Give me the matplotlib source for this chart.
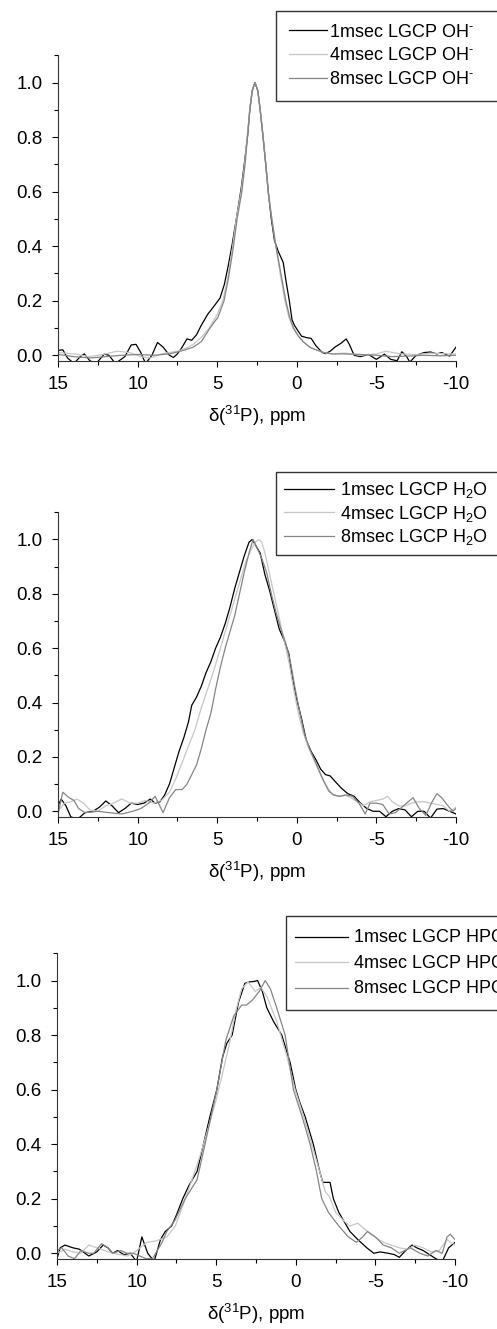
import matplotlib
matplotlib.use("Agg")
import matplotlib.pyplot as plt
from matplotlib.ticker import MultipleLocator

plt.rcParams['font.family'] = ['Liberation Sans', 'DejaVu Sans']
plt.rcParams['mathtext.fontset'] = 'custom'
plt.rcParams['mathtext.rm'] = 'Liberation Sans'
plt.rcParams['mathtext.it'] = 'Liberation Sans:italic'

# ---- panel 1: OH- ----
oh_1_x = [15.0, 14.7, 14.4, 14.0, 13.6, 13.35, 13.0, 12.6, 12.1, 11.8, 11.4, 10.8, 10.4, 10.1, 9.8, 9.5,
          9.1, 8.75, 8.4, 8.0, 7.75, 7.5, 7.2, 6.9, 6.6, 6.3, 6.0, 5.6, 5.2, 4.82, 4.55, 4.3, 4.05,
          3.8, 3.5, 3.3, 3.1, 2.95, 2.8, 2.63, 2.45, 2.3, 2.1, 1.95, 1.79, 1.6, 1.4, 1.16, 0.85, 0.7,
          0.47, 0.3, 0.15, -0.07, -0.3, -0.6, -0.9, -1.2, -1.6, -1.8, -2.1, -2.4, -2.8, -3.1, -3.3,
          -3.6, -4.0, -4.5, -5.0, -5.5, -5.9, -6.3, -6.6, -6.9, -7.1, -7.5, -8.0, -8.4, -8.8, -9.1,
          -9.6, -10.0]
oh_1_y = [0.018, 0.02, -0.01, -0.03, -0.005, 0.005, -0.02, -0.03, 0.004, 0.0, -0.03, -0.005, 0.038, 0.04,
          0.01, -0.03, 0.0, 0.047, 0.03, 0.0, -0.008, 0.005, 0.03, 0.06, 0.055, 0.075, 0.11, 0.15, 0.18,
          0.21, 0.26, 0.33, 0.41, 0.5, 0.61, 0.7, 0.8, 0.9, 0.97, 1.0, 0.97, 0.9, 0.79, 0.7, 0.6, 0.5,
          0.42, 0.38, 0.34, 0.28, 0.2, 0.13, 0.11, 0.09, 0.07, 0.065, 0.062, 0.035, 0.01, 0.006, 0.015,
          0.03, 0.045, 0.06, 0.04, 0.0, -0.005, 0.003, -0.015, 0.004, -0.015, -0.02, 0.013, -0.005,
          -0.025, 0.0, 0.01, 0.012, 0.005, 0.01, -0.003, 0.03]

oh_4_x = [15.0, 14.0, 13.0, 12.0, 11.3, 10.5, 9.8, 9.2, 8.5, 8.0, 7.5, 7.0, 6.5, 6.0, 5.5, 5.0, 4.65,
          4.35, 4.05, 3.8, 3.5, 3.28, 3.12, 2.96, 2.8, 2.63, 2.45, 2.3, 2.12, 1.95, 1.8, 1.56, 1.32,
          1.05, 0.75, 0.5, 0.25, -0.1, -0.4, -0.8, -1.2, -1.7, -2.2, -3.0, -4.0, -5.0, -5.6, -6.5,
          -7.5, -8.5, -9.5, -10.0]
oh_4_y = [0.01, 0.005, -0.005, 0.005, 0.015, 0.01, -0.005, -0.01, 0.005, 0.01, 0.015, 0.025, 0.04, 0.065,
          0.1, 0.15, 0.2, 0.28, 0.39, 0.5, 0.6, 0.7, 0.8, 0.9, 0.97, 1.0, 0.97, 0.9, 0.8, 0.7, 0.6,
          0.5, 0.4, 0.3, 0.2, 0.14, 0.1, 0.07, 0.05, 0.03, 0.02, 0.01, 0.005, 0.008, 0.0, 0.005, 0.015,
          0.005, 0.003, 0.008, 0.005, 0.005]

oh_8_x = [15.0, 14.0, 13.0, 12.0, 11.0, 10.0, 9.0, 8.0, 7.5, 7.0, 6.5, 6.0, 5.45, 4.95, 4.57, 4.3,
          4.0, 3.75, 3.45, 3.25, 3.1, 2.95, 2.8, 2.63, 2.45, 2.3, 2.12, 1.95, 1.8, 1.57, 1.31, 1.0,
          0.69, 0.45, 0.2, -0.1, -0.4, -0.8, -1.2, -1.7, -2.2, -3.0, -4.0, -5.0, -6.0, -7.0, -8.0,
          -9.0, -10.0]
oh_8_y = [0.003, -0.005, -0.01, -0.005, 0.0, 0.003, 0.0, 0.005, 0.012, 0.02, 0.03, 0.05, 0.1, 0.14, 0.2,
          0.28, 0.39, 0.5, 0.6, 0.7, 0.8, 0.9, 0.97, 1.0, 0.97, 0.9, 0.8, 0.7, 0.6, 0.5, 0.4, 0.3, 0.2,
          0.14, 0.1, 0.07, 0.05, 0.03, 0.02, 0.01, 0.005, 0.005, 0.003, 0.0, -0.005, -0.003, 0.0,
          -0.002, 0.0]

# ---- panel 2: H2O ----
h2o_1_x = [15.0, 14.8, 14.5, 14.2, 13.8, 13.3, 12.8, 12.4, 12.0, 11.6, 11.2, 10.8, 10.4, 10.0, 9.6, 9.2,
           8.9, 8.6, 8.3, 8.0, 7.7, 7.4, 7.1, 6.8, 6.6, 6.3, 6.0, 5.7, 5.4, 5.1, 4.8, 4.5, 4.2, 3.9,
           3.6, 3.3, 3.0, 2.8, 2.6, 2.3, 2.0, 1.7, 1.4, 1.1, 0.8, 0.5, 0.3, 0.0, -0.3, -0.6, -0.9, -1.2,
           -1.5, -1.8, -2.1, -2.4, -2.8, -3.2, -3.6, -4.0, -4.4, -4.8, -5.2, -5.6, -6.0, -6.4, -6.8,
           -7.2, -7.6, -8.0, -8.4, -8.8, -9.2, -9.6, -10.0]
h2o_1_y = [0.02, 0.045, 0.02, -0.02, -0.03, -0.005, 0.0, 0.015, 0.038, 0.02, -0.005, 0.01, 0.03, 0.025,
           0.03, 0.045, 0.03, 0.035, 0.06, 0.1, 0.16, 0.22, 0.27, 0.33, 0.39, 0.42, 0.46, 0.51, 0.55,
           0.6, 0.64, 0.69, 0.75, 0.82, 0.88, 0.94, 0.99, 1.0, 0.98, 0.95, 0.87, 0.81, 0.74, 0.67, 0.63,
           0.58, 0.5, 0.41, 0.34, 0.26, 0.22, 0.19, 0.155, 0.135, 0.13, 0.11, 0.085, 0.065, 0.055, 0.03,
           0.01, 0.0, 0.0, -0.02, 0.0, 0.01, 0.005, -0.02, 0.0, 0.0, -0.025, 0.008, 0.01, 0.0, -0.01]

h2o_4_x = [15.0, 14.6, 14.2, 13.8, 13.4, 13.0, 12.5, 12.0, 11.5, 11.0, 10.5, 10.0, 9.5, 9.0, 8.5, 8.0,
           7.6, 7.2, 6.8, 6.4, 6.0, 5.6, 5.2, 4.8, 4.4, 4.0, 3.6, 3.2, 2.8, 2.6, 2.4, 2.2, 2.0, 1.7, 1.4,
           1.1, 0.8, 0.5, 0.2, -0.1, -0.4, -0.7, -1.0, -1.3, -1.6, -1.9, -2.2, -2.6, -3.0, -3.4, -3.8,
           -4.2, -4.6, -5.0, -5.4, -5.7, -6.0, -6.4, -6.8, -7.2, -7.6, -8.0, -8.4, -8.8, -9.2, -9.6, -10.0]
h2o_4_y = [0.0, 0.03, 0.035, 0.045, 0.03, 0.005, 0.0, 0.02, 0.03, 0.046, 0.03, 0.03, 0.04, 0.03, 0.04,
           0.07, 0.12, 0.18, 0.24, 0.3, 0.38, 0.45, 0.52, 0.6, 0.68, 0.76, 0.84, 0.92, 0.97, 0.99, 1.0,
           0.99, 0.95, 0.87, 0.79, 0.71, 0.63, 0.55, 0.45, 0.36, 0.29, 0.24, 0.2, 0.16, 0.12, 0.09,
           0.065, 0.055, 0.06, 0.05, 0.035, 0.02, 0.035, 0.04, 0.045, 0.055, 0.035, 0.02, 0.02, 0.03,
           0.035, 0.035, 0.03, 0.025, 0.02, 0.0, 0.015]

h2o_8_x = [15.0, 14.7, 14.3, 14.0, 13.7, 13.3, 12.5, 11.8, 11.0, 10.3, 9.8, 9.3, 8.9, 8.4, 8.0, 7.6,
           7.2, 6.9, 6.6, 6.3, 6.0, 5.7, 5.4, 5.1, 4.8, 4.5, 4.2, 3.9, 3.6, 3.3, 3.0, 2.75, 2.5, 2.2,
           1.9, 1.6, 1.3, 1.0, 0.7, 0.4, 0.1, -0.2, -0.5, -0.8, -1.1, -1.4, -1.7, -2.0, -2.3, -2.7,
           -3.1, -3.5, -3.9, -4.3, -4.6, -5.0, -5.4, -5.8, -6.2, -6.6, -7.0, -7.3, -7.7, -8.1, -8.5,
           -8.8, -9.1, -9.5, -9.8, -10.0]
h2o_8_y = [-0.01, 0.07, 0.05, 0.04, 0.01, -0.005, 0.0, -0.005, -0.01, 0.0, 0.01, 0.03, 0.055, -0.005,
           0.05, 0.08, 0.08, 0.1, 0.135, 0.17, 0.23, 0.3, 0.36, 0.45, 0.53, 0.6, 0.66, 0.72, 0.8, 0.88,
           0.95, 1.0, 0.97, 0.93, 0.88, 0.8, 0.73, 0.67, 0.62, 0.55, 0.45, 0.36, 0.28, 0.23, 0.19,
           0.15, 0.11, 0.075, 0.06, 0.055, 0.06, 0.055, 0.03, -0.01, 0.03, 0.03, 0.025, -0.01, -0.005,
           0.015, 0.035, 0.05, 0.01, -0.015, 0.035, 0.065, 0.05, 0.02, 0.0, 0.01]

# ---- panel 3: HPO4 2- ----
hpo_1_x = [15.0, 14.8, 14.5, 14.0, 13.6, 13.0, 12.5, 12.1, 11.8, 11.5, 11.2, 10.8, 10.4, 10.0, 9.67,
           9.3, 8.9, 8.5, 8.2, 7.8, 7.5, 7.1, 6.7, 6.2, 5.8, 5.4, 4.96, 4.6, 4.33, 4.0, 3.6, 3.2, 2.9,
           2.6, 2.4, 2.1, 1.82, 1.4, 0.88, 0.36, 0.0, -0.27, -0.59, -1.1, -1.5, -1.7, -2.15, -2.36,
           -2.7, -3.0, -3.4, -3.9, -4.46, -4.9, -5.3, -5.8, -6.2, -6.5, -6.9, -7.3, -7.6, -8.0, -8.4,
           -8.8, -9.2, -9.6, -10.0]
hpo_1_y = [-0.02, 0.02, 0.03, 0.02, 0.015, -0.01, 0.005, 0.03, 0.02, 0.0, 0.01, -0.005, 0.0, -0.03, 0.06,
           0.0, -0.03, 0.05, 0.08, 0.1, 0.14, 0.2, 0.25, 0.3, 0.4, 0.5, 0.6, 0.72, 0.77, 0.8, 0.92, 0.99,
           0.995, 0.997, 1.0, 0.96, 0.9, 0.85, 0.8, 0.7, 0.6, 0.55, 0.5, 0.4, 0.3, 0.26, 0.26, 0.2, 0.15,
           0.12, 0.08, 0.05, 0.02, 0.0, 0.005, 0.0, -0.005, -0.015, 0.01, 0.03, 0.02, 0.01, -0.005,
           -0.02, -0.03, 0.02, 0.04]

hpo_4_x = [15.0, 14.5, 14.0, 13.5, 13.0, 12.5, 12.0, 11.5, 11.0, 10.6, 10.2, 9.8, 9.35, 8.8, 8.1, 7.57,
           7.0, 6.46, 6.0, 5.5, 5.06, 4.6, 4.2, 3.8, 3.4, 3.0, 2.55, 2.2, 1.8, 1.2, 0.6, 0.04, -0.5,
           -1.0, -1.5, -1.85, -2.1, -2.5, -3.0, -3.4, -3.9, -4.3, -4.7, -5.1, -5.5, -6.0, -6.5, -7.0,
           -7.5, -8.0, -8.5, -9.0, -9.5, -10.0]
hpo_4_y = [0.0, 0.015, 0.005, 0.0, 0.03, 0.02, 0.01, 0.0, -0.005, -0.01, 0.0, 0.02, 0.04, 0.045, 0.06,
           0.1, 0.19, 0.28, 0.36, 0.46, 0.55, 0.66, 0.76, 0.88, 0.97, 0.995, 0.96, 0.975, 0.94, 0.85,
           0.73, 0.6, 0.5, 0.4, 0.3, 0.225, 0.21, 0.15, 0.12, 0.1, 0.11, 0.09, 0.07, 0.055, 0.04, 0.03,
           0.02, 0.015, 0.03, 0.02, 0.005, 0.01, 0.05, 0.03]

hpo_8_x = [15.0, 14.7, 14.3, 13.9, 13.5, 13.0, 12.7, 12.2, 11.8, 11.5, 11.0, 10.6, 10.2, 9.8, 9.4,
           9.0, 8.8, 8.4, 8.1, 7.6, 6.95, 6.2, 5.7, 4.96, 4.4, 3.9, 3.4, 3.1, 2.7, 2.3, 1.92, 1.6, 1.2,
           0.67, 0.15, -0.4, -0.9, -1.3, -1.63, -2.05, -2.7, -3.3, -3.8, -4.2, -4.5, -5.0, -5.5, -6.0,
           -6.5, -7.2, -7.8, -8.3, -8.8, -9.2, -9.5, -9.7, -10.0]
hpo_8_y = [0.01, 0.02, -0.01, -0.02, 0.01, 0.0, 0.0, 0.035, 0.02, 0.0, 0.01, 0.0, 0.0, -0.01, -0.02,
           -0.02, 0.0, 0.04, 0.08, 0.12, 0.2, 0.27, 0.4, 0.6, 0.78, 0.87, 0.91, 0.91, 0.93, 0.96, 1.0,
           0.97, 0.9, 0.8, 0.6, 0.5, 0.4, 0.3, 0.2, 0.15, 0.1, 0.06, 0.04, 0.06, 0.08, 0.06, 0.03, 0.02,
           0.0, 0.02, 0.0, -0.01, 0.01, 0.0, 0.06, 0.07, 0.05]

labels_oh = ['1msec LGCP OH$^{\\text{-}}$', '4msec LGCP OH$^{\\text{-}}$', '8msec LGCP OH$^{\\text{-}}$']
labels_h2o = ['1msec LGCP H$_2$O', '4msec LGCP H$_2$O', '8msec LGCP H$_2$O']
labels_hpo = ['1msec LGCP HPO$_4^{2\\text{-}}$', '4msec LGCP HPO$_4^{2\\text{-}}$',
              '8msec LGCP HPO$_4^{2\\text{-}}$']

colors = ['#000000', '#c6c6c6', '#858585']

W, H = 497, 1329
fig = plt.figure(figsize=(W / 100, H / 100), dpi=100)

# axes boxes in pixels: left, right, top, bottom
boxes = [(58, 456, 55, 361), (58, 456, 512, 817), (57, 455, 953, 1259)]
# legend: pixel left, top, handlelength, handletextpad, labelspacing, borderpad
leg_opts = [(276, 11, 2.1, 0.15, 0.38, 0.7),
            (276, 472, 2.75, 0.33, 0.2, 0.45),
            (286, 916, 2.95, 0.28, 0.02, 0.5)]

panels = [
    ([(oh_1_x, oh_1_y), (oh_4_x, oh_4_y), (oh_8_x, oh_8_y)], labels_oh),
    ([(h2o_1_x, h2o_1_y), (h2o_4_x, h2o_4_y), (h2o_8_x, h2o_8_y)], labels_h2o),
    ([(hpo_1_x, hpo_1_y), (hpo_4_x, hpo_4_y), (hpo_8_x, hpo_8_y)], labels_hpo),
]

for (series, labels), (l, r, t, b), (lx, ly, hl, htp, ls, bp) in zip(panels, boxes, leg_opts):
    ax = fig.add_axes([l / W, 1 - b / H, (r - l) / W, (b - t) / H])
    for (xs, ys), c, lab in zip(series, colors, labels):
        ax.plot(xs, ys, color=c, lw=0.9, label=lab)
    ax.set_xlim(15, -10)
    ax.set_ylim(-0.021, 1.101)
    ax.spines['top'].set_visible(False)
    ax.spines['right'].set_visible(False)
    ax.spines['left'].set_color('#333333')
    ax.spines['bottom'].set_color('#333333')
    ax.xaxis.set_minor_locator(MultipleLocator(2.5))
    ax.yaxis.set_minor_locator(MultipleLocator(0.1))
    ax.set_xticks([15, 10, 5, 0, -5, -10])
    ax.set_xticklabels(['15', '10', '5', '0', '-5', '-10'])
    ax.set_yticks([0.0, 0.2, 0.4, 0.6, 0.8, 1.0])
    ax.set_yticklabels(['0.0', '0.2', '0.4', '0.6', '0.8', '1.0'])
    ax.tick_params(which='major', direction='out', length=4.5, width=0.8, labelsize=13.5, pad=6)
    ax.tick_params(which='minor', direction='out', length=3, width=0.8)
    ax.tick_params(axis='y', which='major', pad=6.5)
    ax.set_xlabel('δ($^{31}$P), ppm', fontsize=13.5, labelpad=8)
    # the box runs past the right edge of the figure, as in the original
    leg = ax.legend(loc='upper left', bbox_to_anchor=(lx / W, 1 - ly / H, (530 - lx) / W, 0),
                    bbox_transform=fig.transFigure, mode='expand', borderaxespad=0,
                    fancybox=False, edgecolor='#333333', framealpha=1, fontsize=13,
                    handlelength=hl, handletextpad=htp, labelspacing=ls, borderpad=bp)
    leg.get_frame().set_linewidth(1.0)

fig.savefig('out.png', dpi=100)
